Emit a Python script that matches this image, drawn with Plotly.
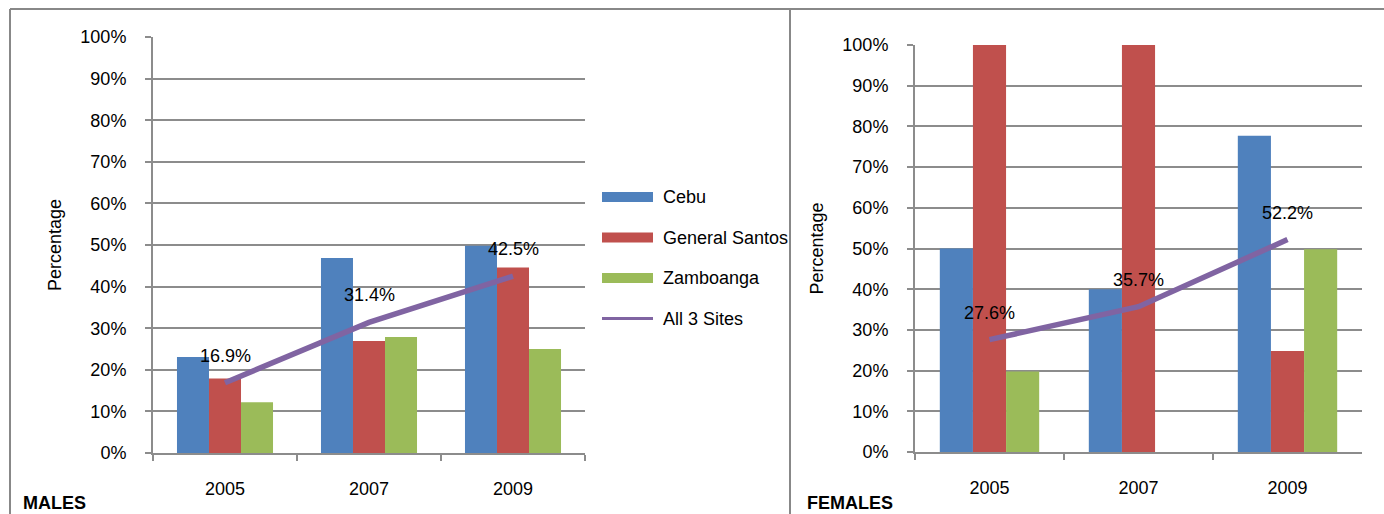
import plotly.graph_objects as go

# --- data -------------------------------------------------------------
years = ["2005", "2007", "2009"]
series_names = ["Cebu", "General Santos", "Zamboanga"]
line_name = "All 3 Sites"

male_cebu = [23.1, 46.9, 49.8]
male_gensan = [17.9, 26.9, 44.6]
male_zamboanga = [12.2, 27.9, 25.0]
male_all_sites = [16.9, 31.4, 42.5]

female_cebu = [50.0, 40.0, 77.7]
female_gensan = [100.0, 100.0, 24.8]
female_zamboanga = [19.8, 0.0, 49.8]
female_all_sites = [27.6, 35.7, 52.2]

y_tick_values = [0, 10, 20, 30, 40, 50, 60, 70, 80, 90, 100]
y_tick_labels = ["0%", "10%", "20%", "30%", "40%", "50%",
                 "60%", "70%", "80%", "90%", "100%"]

# --- style ------------------------------------------------------------
W, H = 1384, 514
FONT = "Liberation Sans, Arial, sans-serif"
FS = 18
GRID = "#8c8c8c"
BORDER = "#888888"
colors = {"Cebu": "#4F81BD", "General Santos": "#C0504D",
          "Zamboanga": "#9BBB59", "All 3 Sites": "#8064A2"}


def px_x(v):
    return v / W


def px_y(v):
    return (H - v) / H


fig = go.Figure()

panels = [
    ("x", "y", [male_cebu, male_gensan, male_zamboanga], male_all_sites),
    ("x2", "y2", [female_cebu, female_gensan, female_zamboanga], female_all_sites),
]

annotations = []
for xa, ya, bars, overall in panels:
    for name, vals in zip(series_names, bars):
        fig.add_trace(go.Bar(
            x=years, y=vals, name=name, xaxis=xa, yaxis=ya,
            marker=dict(color=colors[name], line=dict(width=0)),
            showlegend=False,
        ))
    fig.add_trace(go.Scatter(
        x=years, y=overall, name=line_name, xaxis=xa, yaxis=ya,
        mode="lines", line=dict(color=colors[line_name], width=5.5),
        showlegend=False,
    ))
    # value labels above the overall line (category index positions)
    for idx, v in enumerate(overall):
        annotations.append(dict(
            x=idx, y=v, xref=xa, yref=ya, text=f"{v}%", showarrow=False,
            yshift=27, xanchor="center", yanchor="middle",
            font=dict(family=FONT, size=FS, color="#000000"),
        ))

axis_common = dict(
    showline=True, linecolor=GRID, linewidth=2,
    ticks="outside", tickcolor=GRID, tickwidth=2, ticklen=6,
    tickfont=dict(family=FONT, size=FS, color="#000000"),
    automargin=False, fixedrange=True,
)

x_common = dict(type="category", categoryorder="array", categoryarray=years,
                range=[-0.5, len(years) - 0.5], tickson="boundaries",
                showgrid=False, ticklabelstandoff=18, **axis_common)
y_common = dict(range=[0, 100], tickmode="array", tickvals=y_tick_values,
                ticktext=y_tick_labels, showgrid=True, gridcolor=GRID,
                gridwidth=2, zeroline=False, ticklabelstandoff=15,
                title=dict(text="Percentage", standoff=14,
                           font=dict(family=FONT, size=FS, color="#000000")),
                **axis_common)

fig.update_layout(
    width=W, height=H,
    margin=dict(l=0, r=0, t=0, b=0, autoexpand=False),
    paper_bgcolor="white", plot_bgcolor="white",
    barmode="group", bargap=0.333, bargroupgap=0,
    showlegend=False,
    font=dict(family=FONT, size=FS, color="#000000"),
    xaxis=dict(domain=[px_x(153), px_x(585)], anchor="y", **x_common),
    yaxis=dict(domain=[px_y(453), px_y(37)], anchor="x", **y_common),
    xaxis2=dict(domain=[px_x(915), px_x(1362)], anchor="y2", **x_common),
    yaxis2=dict(domain=[px_y(452), px_y(45)], anchor="x2", **y_common),
)

# panel frames
shapes = [
    dict(type="line", xref="paper", yref="paper", x0=px_x(10), x1=1,
         y0=px_y(9), y1=px_y(9), line=dict(color=BORDER, width=2)),
    dict(type="line", xref="paper", yref="paper", x0=px_x(10), x1=px_x(10),
         y0=0, y1=px_y(9), line=dict(color=BORDER, width=2)),
    dict(type="line", xref="paper", yref="paper", x0=px_x(790), x1=px_x(790),
         y0=0, y1=px_y(9), line=dict(color=BORDER, width=2)),
]

# legend drawn beside the male panel
legend_items = series_names + [line_name]
for i, name in enumerate(legend_items):
    cy = 197 + i * 40.5
    if name == line_name:
        shapes.append(dict(type="line", xref="paper", yref="paper",
                           x0=px_x(602), x1=px_x(653), y0=px_y(cy), y1=px_y(cy),
                           line=dict(color=colors[name], width=3)))
    else:
        shapes.append(dict(type="rect", xref="paper", yref="paper",
                           x0=px_x(602), x1=px_x(653),
                           y0=px_y(cy + 5), y1=px_y(cy - 5),
                           fillcolor=colors[name], line=dict(width=0)))
    annotations.append(dict(
        x=px_x(661), y=px_y(cy), xref="paper", yref="paper", text=name,
        showarrow=False, xanchor="left", yanchor="middle",
        font=dict(family=FONT, size=FS, color="#000000"),
    ))

# panel captions
for label, x in [("MALES", 21), ("FEMALES", 805)]:
    annotations.append(dict(
        x=px_x(x), y=px_y(503), xref="paper", yref="paper",
        text=f"<b>{label}</b>", showarrow=False, xanchor="left",
        yanchor="middle", font=dict(family=FONT, size=FS, color="#000000"),
    ))

fig.update_layout(shapes=shapes, annotations=annotations)

fig.write_html("out.html")
